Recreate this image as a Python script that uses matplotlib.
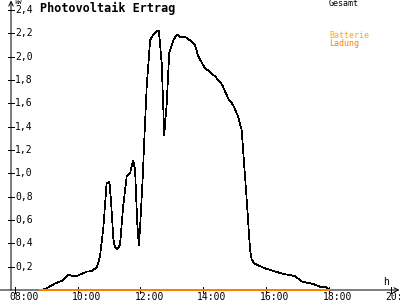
import matplotlib
matplotlib.use("Agg")
import matplotlib.pyplot as plt

# Photovoltaik Ertrag, one day; time in hours, power in kW
hours = [8.83, 9.01, 9.28, 9.49, 9.70, 9.81, 9.97, 10.29, 10.45, 10.61, 10.71, 10.82,
         10.92, 11.01, 11.06, 11.14, 11.19, 11.26, 11.35, 11.45, 11.56, 11.67, 11.77,
         11.83, 11.90, 11.95, 11.99, 12.07, 12.11, 12.20, 12.31, 12.41, 12.52, 12.59,
         12.68, 12.76, 12.84, 12.92, 13.05, 13.16, 13.26, 13.42, 13.58, 13.74, 13.85,
         14.06, 14.22, 14.38, 14.54, 14.64, 14.80, 14.96, 15.12, 15.23, 15.33, 15.40,
         15.46, 15.50, 15.55, 15.66, 15.97, 16.56, 16.93, 17.15, 17.52, 17.73, 17.94, 17.99]
gesamt = [0.0, 0.014, 0.057, 0.077, 0.129, 0.123, 0.12, 0.157, 0.163, 0.195, 0.285, 0.54,
          0.91, 0.93, 0.77, 0.43, 0.366, 0.35, 0.386, 0.715, 0.97, 1.0, 1.11,
          1.03, 0.57, 0.386, 0.54, 0.94, 1.20, 1.74, 2.14, 2.19, 2.22, 2.22,
          1.94, 1.33, 1.60, 2.03, 2.14, 2.19, 2.17, 2.17, 2.14, 2.10, 2.00,
          1.90, 1.87, 1.83, 1.785, 1.74, 1.64, 1.585, 1.485, 1.37, 1.00, 0.74,
          0.49, 0.34, 0.257, 0.223, 0.186, 0.137, 0.12, 0.072, 0.051, 0.028, 0.023, 0.006]
batt_hours = [8.80, 18.0]
batt_ladung = [0.0, 0.0]

xticks = [8, 10, 12, 14, 16, 18, 20]
xlabels = ["08:00", "10:00", "12:00", "14:00", "16:00", "18:00", "20:00"]
yticks = [0.2, 0.4, 0.6, 0.8, 1.0, 1.2, 1.4, 1.6, 1.8, 2.0, 2.2, 2.4]
ylabels = ["0,2", "0,4", "0,6", "0,8", "1,0", "1,2", "1,4", "1,6", "1,8", "2,0", "2,2", "2,4"]

plt.rcParams["font.family"] = "DejaVu Sans Mono"

# pixel -> data mapping: 08:00 at x=15px, 2h = 62.7px; 0 kW at y=290px, 1 kW = 116.7px
PX_H = 31.35
PX_KW = 116.7
t0, t1 = 8 - 15 / PX_H, 8 + 385 / PX_H
p0, p1 = -10 / PX_KW, 290 / PX_KW
dx, dy = 1 / PX_H, 1 / PX_KW
LW = 0.5   # thin, one pixel when drawn aliased

fig = plt.figure(figsize=(4, 3), dpi=100)
ax = fig.add_axes([0, 0, 1, 1])
ax.set_xlim(t0, t1)
ax.set_ylim(p0, p1)
ax.axis("off")

ax_x = t0 + 11 * dx      # y axis position
# axes with arrows
ax.annotate("", xy=(t1 - 0.5 * dx, 0), xytext=(t0, 0),
            arrowprops=dict(arrowstyle="->", color="black", lw=0.72, mutation_scale=8,
                            shrinkA=0, shrinkB=0))
ax.annotate("", xy=(ax_x, p1 - 0.5 * dy), xytext=(ax_x, 0),
            arrowprops=dict(arrowstyle="->", color="black", lw=0.72, mutation_scale=8,
                            shrinkA=0, shrinkB=0))

for t, lab in zip(xticks, xlabels):
    ax.plot([t, t], [-3 * dy, 3 * dy], color="black", lw=LW, antialiased=False)
    ax.text(t - 6 * dx, -6.5 * dy, lab, fontsize=7, ha="left", va="center")
for p, lab in zip(yticks, ylabels):
    ax.plot([ax_x - 3 * dx, ax_x + 3 * dx], [p, p], color="black", lw=LW, antialiased=False)
    ax.text(ax_x + 4 * dx, p, lab, fontsize=7, ha="left", va="center")

ax.text(ax_x + 3 * dx, p1, "kW", fontsize=4.5, ha="left", va="top")
ax.text(t0 + 383 * dx, 8 * dy, "h", fontsize=7, ha="left", va="center")

ax.plot(batt_hours, batt_ladung, color="#ff8000", lw=1.44, antialiased=False, zorder=5)
ax.plot(hours, gesamt, color="black", lw=LW, antialiased=False, zorder=4)

ax.text(t0 + 40 * dx, p1 - 8 * dy, "Photovoltaik Ertrag", fontsize=8.5,
        fontweight="bold", ha="left", va="center")
ax.text(t0 + 329 * dx, p1 - 4 * dy, "Gesamt", fontsize=6, ha="left", va="center")
ax.text(t0 + 329 * dx, p1 - 35 * dy, "Batterie", fontsize=6, color="#ffaa00",
        ha="left", va="center")
ax.text(t0 + 329 * dx, p1 - 44 * dy, "Ladung", fontsize=6, color="#ff8000",
        ha="left", va="center")

fig.savefig("out.png", dpi=100)
